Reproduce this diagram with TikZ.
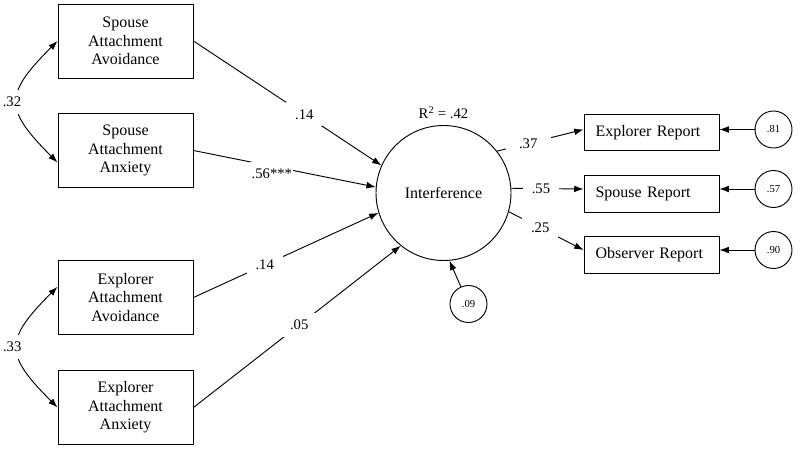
\documentclass[tikz,border=0pt]{standalone}
\usepackage{fontspec}
\setmainfont{Liberation Serif}
\usetikzlibrary{arrows.meta}

\begin{document}
\begin{tikzpicture}[x=0.75pt, y=-0.75pt, line width=0.7pt,
    >={Latex[length=7pt,width=5pt]},
    pred/.style={draw, minimum width=101.25pt, minimum height=55.5pt, inner sep=0pt,
        align=center, font=\fontsize{12}{14}\selectfont},
    report/.style={draw, minimum height=27.4pt, text width=84pt, inner xsep=8.6pt,
        align=left, font=\fontsize{12}{14}\selectfont},
    latent/.style={draw, circle, minimum size=101.25pt, inner sep=0pt,
        font=\fontsize{12}{14}\selectfont},
    resid/.style={draw, circle, minimum size=27.75pt, inner sep=0pt,
        font=\fontsize{8}{9}\selectfont},
    coef/.style={fill=white, minimum width=27pt, minimum height=18pt, inner sep=1pt,
        font=\fontsize{11}{13}\selectfont}]
    \useasboundingbox (0,0) rectangle (800,450);

    % predictors
    \node[pred] (sav) at (125.5,41) {Spouse\\Attachment\\Avoidance};
    \node[pred] (sanx) at (125.5,150.5) {Spouse\\Attachment\\Anxiety};
    \node[pred] (eav) at (125.5,297.5) {Explorer\\Attachment\\Avoidance};
    \node[pred] (eanx) at (125.5,407.5) {Explorer\\Attachment\\Anxiety};

    % latent factor
    \node[latent] (interf) at (443.5,193) {Interference};
    \node[above=1pt, font=\fontsize{11}{13}\selectfont] (rsq) at (interf.north) {R\textsuperscript{2} = .42};
    \node[resid] (e09) at (468.5,304) {.09};

    % indicators
    \node[report] (erep) at (651.5,132.5) {Explorer Report};
    \node[report] (srep) at (651.5,194) {Spouse Report};
    \node[report] (orep) at (651.5,255) {Observer Report};
    \node[resid] (e81) at (773.5,129.5) {.81};
    \node[resid] (e57) at (773.5,189) {.57};
    \node[resid] (e90) at (773.5,250) {.90};

    % covariances
    \draw[<->] (sav.west) to[bend right=45, looseness=1.6] node[coef, xshift=-4pt] {.32} (sanx.190);
    \draw[<->] (eav.171) to[bend right=45, looseness=1.6] node[coef, xshift=-4pt] {.33} (eanx.west);

    % paths to interference
    \draw[->] (sav.east) -- node[coef, pos=0.59] {.14} (interf.156);
    \draw[->] (sanx.east) -- node[coef, pos=0.43, yshift=-6pt] {.56***} (interf.175);
    \draw[->] (eav.east) -- node[coef, pos=0.385] {.14} (interf.197);
    \draw[->] (eanx.east) -- node[coef, pos=0.51] {.05} (interf.231);
    \draw[->] (e09) -- (interf.275);

    % loadings
    \draw[->] (interf.38) -- node[coef, pos=0.36, minimum width=34pt] {.37} (erep.west |- e81);
    \draw[->] (interf.4) -- node[coef, pos=0.41] {.55} (srep.west |- e57);
    \draw[->] (interf.344) -- node[coef, pos=0.42] {.25} (orep.west |- e90);
    \draw[->] (e81) -- (e81 -| erep.east);
    \draw[->] (e57) -- (e57 -| srep.east);
    \draw[->] (e90) -- (e90 -| orep.east);
\end{tikzpicture}
\end{document}
